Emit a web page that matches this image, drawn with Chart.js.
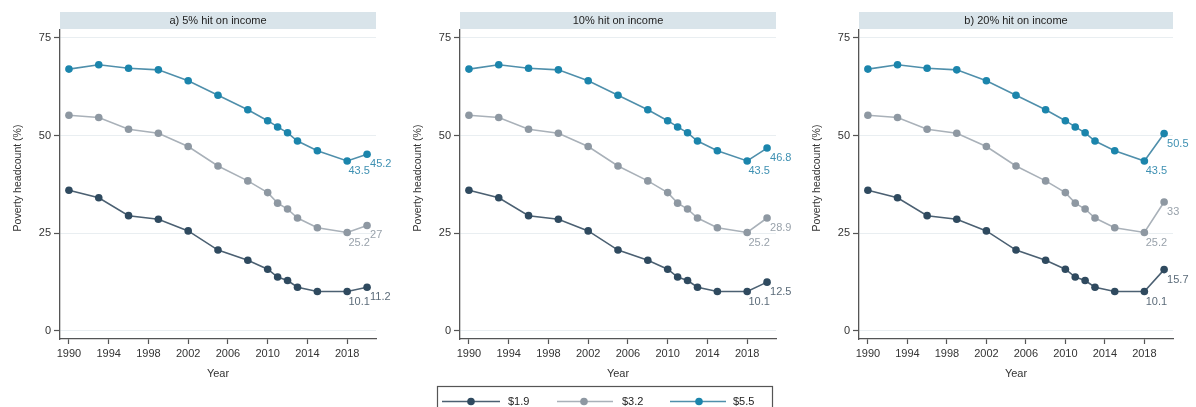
<!DOCTYPE html>
<html><head><meta charset="utf-8">
<script src="https://cdn.jsdelivr.net/npm/chart.js@4.4.0/dist/chart.umd.min.js"></script>
<style>
html,body{margin:0;padding:0;background:#fff;width:1196px;height:407px;overflow:hidden}
.p{position:absolute;top:0;height:407px}
</style></head><body>
<div class="p" style="left:0;width:400px"><canvas id="c0"></canvas></div>
<div class="p" style="left:400px;width:400px"><canvas id="c1"></canvas></div>
<div class="p" style="left:799px;width:397px"><canvas id="c2"></canvas></div>
<script>
// ---- data ----
const years = [1990,1993,1996,1999,2002,2005,2008,2010,2011,2012,2013,2015,2018,2020];
const hist19 = [36.0,34.1,29.5,28.6,25.6,20.7,18.1,15.8,13.8,12.9,11.2,10.1,10.1];
const hist32 = [55.2,54.6,51.6,50.6,47.2,42.2,38.4,35.4,32.7,31.2,28.9,26.4,25.2];
const hist55 = [67.0,68.1,67.2,66.8,64.0,60.3,56.6,53.8,52.2,50.7,48.6,46.1,43.5];
// 2020 values for the 5%, 10% and 20% income shock panels
const proj19 = [11.2,12.5,15.7];
const proj32 = [27,28.9,33];
const proj55 = [45.2,46.8,50.5];
const panelTitles = ['a) 5% hit on income','10% hit on income','b) 20% hit on income'];
const seriesNames = ['$1.9','$3.2','$5.5'];
const xTicks = [1990,1994,1998,2002,2006,2010,2014,2018];
const yTicks = [0,25,50,75];

// ---- styles ----
const lineColors = ['#4b6072','#a9b1b9','#4f8fab'];
const markColors = ['#2f4a5f','#8e98a2','#1b85ac'];
const labelColors = ['#5b6b79','#99a2ab','#3e90b2'];
const FONT = 'Liberation Sans, Arial, sans-serif';

function toPts(hist, last){ const v = hist.concat([last]); return years.map((yr,k)=>({x:yr,y:v[k]})); }

const decor = {
  id:'decor',
  afterDatasetsDraw(chart, args, opts){
    const ctx = chart.ctx;
    ctx.save();
    ctx.font = '11px ' + FONT;
    ctx.textBaseline = 'middle';
    chart.data.datasets.forEach((ds, i) => {
      const meta = chart.getDatasetMeta(i);
      const n = meta.data.length;
      const a = meta.data[n-2], b = meta.data[n-1];
      ctx.fillStyle = labelColors[i];
      ctx.textAlign = 'center';
      ctx.fillText(String(ds.data[n-2].y), a.x + 12, a.y + 10);
      ctx.textAlign = 'left';
      ctx.fillText(String(ds.data[n-1].y), b.x + 3, b.y + 10);
    });
    ctx.restore();
  },
  afterDraw(chart, args, opts){
    const ctx = chart.ctx, ca = chart.chartArea;
    ctx.save();
    // title strip
    ctx.fillStyle = '#d9e4ea';
    ctx.fillRect(ca.left, 12, ca.right - ca.left, 17);
    ctx.fillStyle = '#222';
    ctx.font = '11px ' + FONT;
    ctx.textAlign = 'center';
    ctx.textBaseline = 'middle';
    ctx.fillText(opts.title, (ca.left + ca.right)/2, 20.5);
    // y title
    ctx.translate(18, 178);
    ctx.rotate(-Math.PI/2);
    ctx.fillStyle = '#333';
    ctx.font = '10.5px ' + FONT;
    ctx.fillText('Poverty headcount (%)', 0, 0);
    ctx.restore();
    if (opts.legend) {
      ctx.save();
      const L = 37, T = 386;
      ctx.strokeStyle = '#555';
      ctx.lineWidth = 1.2;
      ctx.strokeRect(L + 0.5, T + 0.5, 335, 30);
      const items = [[42,100,71,108],[157,213,184,222],[270,326,299,333]];
      chart.data.datasets.forEach((ds, i) => {
        const it = items[i], yy = 401.5;
        ctx.strokeStyle = lineColors[i];
        ctx.lineWidth = 1.6;
        ctx.beginPath(); ctx.moveTo(it[0], yy); ctx.lineTo(it[1], yy); ctx.stroke();
        ctx.fillStyle = markColors[i];
        ctx.beginPath(); ctx.arc(it[2], yy, 3.8, 0, Math.PI*2); ctx.fill();
        ctx.fillStyle = '#222';
        ctx.font = '11px ' + FONT;
        ctx.textAlign = 'left';
        ctx.textBaseline = 'middle';
        ctx.fillText(ds.label, it[3], yy);
      });
      ctx.restore();
    }
  }
};

function makeChart(id, p, rightPad){
  const vals = [toPts(hist19, proj19[p]), toPts(hist32, proj32[p]), toPts(hist55, proj55[p])];
  return new Chart(document.getElementById(id), {
    type:'line',
    data:{ datasets: vals.map((d,i)=>({
      label: seriesNames[i], data: d,
      borderColor: lineColors[i], borderWidth: 1.6,
      pointRadius: 3.8, pointHoverRadius: 3.8,
      pointBackgroundColor: markColors[i], pointBorderColor: markColors[i], pointBorderWidth: 0,
      tension: 0, clip: false
    })) },
    options:{
      responsive:true, maintainAspectRatio:false, animation:false,
      layout:{ padding:{top:30, right:rightPad, left:0, bottom:0}, autoPadding:false },
      plugins:{ legend:{display:false}, tooltip:{enabled:false},
        decor:{ title: panelTitles[p], legend: p === 1 } },
      scales:{
        x:{ type:'linear', min:1989.1, max:2020.9,
          afterBuildTicks: s => { s.ticks = xTicks.map(v => ({value:v})); },
          afterFit: s => { s.height = 68; },
          ticks:{ autoSkip:false, maxRotation:0, padding:3, color:'#333', font:{family:FONT, size:11}, callback: v => String(v) },
          grid:{ drawOnChartArea:false, drawTicks:true, tickLength:5, tickColor:'#555', tickWidth:1.2 },
          border:{ display:true, color:'#555', width:1.3 },
          title:{ display:true, text:'Year', color:'#333', font:{family:FONT, size:11}, padding:{top:0, bottom:26} }
        },
        y:{ type:'linear', min:-2.05, max:77,
          afterBuildTicks: s => { s.ticks = yTicks.map(v => ({value:v})); },
          afterFit: s => { s.width = 60; },
          ticks:{ padding:3, color:'#333', font:{family:FONT, size:11} },
          grid:{ color:'#e9eef1', lineWidth:1, drawTicks:true, tickLength:6, tickColor:'#555', tickWidth:1.2 },
          border:{ display:true, color:'#555', width:1.3 }
        }
      }
    },
    plugins:[decor]
  });
}
makeChart('c0', 0, 24);
makeChart('c1', 1, 24);
makeChart('c2', 2, 23);
</script>
</body></html>
